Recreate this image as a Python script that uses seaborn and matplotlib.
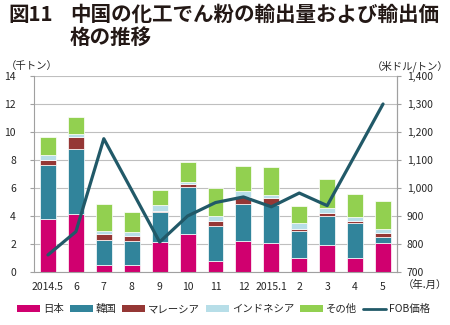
import matplotlib
matplotlib.use("Agg")
import matplotlib.pyplot as plt
import seaborn as sns
import numpy as np
import pandas as pd
from matplotlib.patches import Patch
from matplotlib.lines import Line2D

months = ["2014.5", "6", "7", "8", "9", "10", "11", "12", "2015.1", "2", "3", "4", "5"]
japan     = [3.76, 4.14, 0.52, 0.50, 2.17, 2.69, 0.76, 2.24, 2.05, 1.02, 1.90, 1.02, 2.10]
korea     = [3.86, 4.67, 1.74, 1.71, 2.12, 3.41, 2.55, 2.62, 2.76, 1.93, 2.12, 2.48, 0.40]
malaysia  = [0.38, 0.83, 0.43, 0.34, 0.09, 0.21, 0.36, 0.50, 0.50, 0.15, 0.19, 0.17, 0.31]
indonesia = [0.36, 0.24, 0.24, 0.28, 0.41, 0.12, 0.35, 0.43, 0.21, 0.38, 0.36, 0.28, 0.26]
other     = [1.28, 1.22, 1.90, 1.46, 1.07, 1.45, 1.98, 1.78, 1.98, 1.26, 2.10, 1.62, 1.98]
fob_price = [761, 844, 1176, 992, 807, 900, 948, 968, 933, 982, 937, 1118, 1300]

series_names = ["日本", "韓国", "マレーシア", "インドネシア", "その他"]
series_vals = [japan, korea, malaysia, indonesia, other]
colors = ["#D0006F", "#31849B", "#953735", "#B7DEE8", "#92D050"]
line_color = "#215968"
line_label = "FOB価格"

sns.set_theme(style="white")
plt.rcParams["font.family"] = ["Noto Sans CJK JP", "DejaVu Sans"]

fig = plt.figure(figsize=(4.5, 3.25), dpi=100)
ax = fig.add_axes([34/450, (325-272)/325, (397-34)/450, (272-76)/325])

bottom = np.zeros(len(months))
for name, vals, c in zip(series_names, series_vals, colors):
    df = pd.DataFrame({"month": months, "value": vals})
    sns.barplot(data=df, x="month", y="value", order=months, color=c,
                bottom=bottom.copy(), width=0.57, ax=ax, saturation=1,
                edgecolor="white", linewidth=0.5, errorbar=None)
    bottom += np.array(vals)

ax.set_ylim(0, 14)
ax.set_yticks(np.arange(0, 15, 2))
ax.set_xlim(-0.5, 12.5)
ax.set_xlabel("")
ax.set_ylabel("")
ax.yaxis.grid(True, color="#BFBFBF", linewidth=0.8)
ax.set_axisbelow(True)
ax.set_xticks(range(len(months)))
ax.set_xticklabels(months)
ax.set_xticks(np.arange(-0.5, 13, 1), minor=True)
ax.tick_params(axis="x", which="major", length=0, pad=7, labelsize=7.5)
ax.tick_params(axis="x", which="minor", length=3, color="#A0A0A0", width=0.8)
ax.tick_params(axis="y", length=3, color="#A0A0A0", width=0.8, labelsize=7.5, pad=10, left=True)
for s in ["left", "bottom", "right"]:
    ax.spines[s].set_color("#A0A0A0")
    ax.spines[s].set_linewidth(0.8)
ax.spines["top"].set_visible(False)

ax2 = ax.twinx()
ldf = pd.DataFrame({"pos": np.arange(len(months)), "price": fob_price})
sns.lineplot(data=ldf, x="pos", y="price", ax=ax2, color=line_color, linewidth=2.3, sort=False)
ax2.set_ylim(700, 1400)
ax2.set_yticks(np.arange(700, 1401, 100))
ax2.set_yticklabels([f"{v:,}" for v in range(700, 1401, 100)])
ax2.set_ylabel("")
ax2.set_xlabel("")
ax2.tick_params(axis="y", length=3, color="#A0A0A0", width=0.8, labelsize=7.5, pad=4, right=True)
for s in ["left", "bottom", "top"]:
    ax2.spines[s].set_visible(False)
ax2.spines["right"].set_color("#A0A0A0")
ax2.spines["right"].set_linewidth(0.8)
ax2.set_xlim(-0.5, 12.5)

fig.text(8/450, 1 - 4/325, "図11", fontsize=14.8, fontweight="bold", va="top", ha="left", color="#231815")
fig.text(70/450, 1 - 4/325, "中国の化工でん粉の輸出量および輸出価\n格の推移", fontsize=14.8,
         fontweight="bold", va="top", ha="left", linespacing=1.12, color="#231815")
fig.text(6/450, 1 - 66/325, "（千トン）", fontsize=7.5, va="center", ha="left")
fig.text(449/450, 1 - 66/325, "（米ドル/トン）", fontsize=7.5, va="center", ha="right")
fig.text(447/450, 1 - 285/325, "（年.月）", fontsize=7.5, va="center", ha="right")

handles = [Patch(facecolor=c, edgecolor="none") for c in colors]
handles.append(Line2D([0], [0], color=line_color, linewidth=2))
labels = series_names + [line_label]
fig.legend(handles, labels, loc="center", bbox_to_anchor=(0.497, 1 - 309/325), ncol=6,
           frameon=False, fontsize=7.5, handlelength=2.2, handleheight=0.6,
           handletextpad=0.3, columnspacing=0.55)

fig.savefig("out.png", dpi=100)
